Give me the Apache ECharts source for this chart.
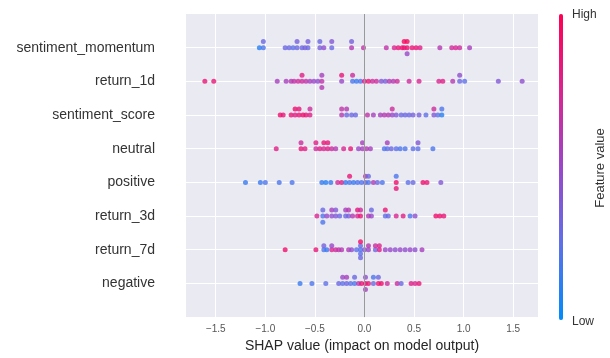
<!DOCTYPE html>
<html>
<head>
<meta charset="utf-8">
<script src="https://cdn.jsdelivr.net/npm/echarts@6/dist/echarts.min.js"></script>
<style>
  html, body { margin: 0; padding: 0; background: #fff; }
  #chart { width: 610px; height: 358px; }
</style>
</head>
<body>
<div id="chart"></div>
<script>
// feature names, top to bottom
const features = ['sentiment_momentum', 'return_1d', 'sentiment_score', 'neutral',
  'positive', 'return_3d', 'return_7d', 'negative']

// [shap value, feature value (0 = low, 1 = high)]
const sentimentMomentum = [
  [-1.06, 0.1], [-1.02, 0.2], [-1.02, 0.3],
  [-0.80, 0.3], [-0.76, 0.3], [-0.72, 0.25], [-0.68, 0.3], [-0.68, 0.35], [-0.63, 0.3],
  [-0.60, 0.35], [-0.57, 0.3], [-0.57, 0.35],
  [-0.45, 0.35], [-0.45, 0.3], [-0.41, 0.45], [-0.33, 0.3], [-0.33, 0.4],
  [-0.13, 0.6], [-0.13, 0.35], [-0.01, 0.65],
  [0.22, 0.65], [0.30, 0.75], [0.34, 0.85], [0.38, 0.9], [0.40, 0.85], [0.40, 0.95],
  [0.43, 0.9], [0.43, 0.95], [0.43, 0.5], [0.48, 0.85], [0.52, 0.85], [0.56, 0.8],
  [0.76, 0.6], [0.88, 0.7], [0.92, 0.75], [0.96, 0.7], [1.06, 0.55]
]
const return1d = [
  [-1.61, 0.85], [-1.52, 0.85], [-0.88, 0.55],
  [-0.79, 0.55], [-0.74, 0.6], [-0.71, 0.65], [-0.67, 0.7], [-0.63, 0.7], [-0.63, 0.8],
  [-0.59, 0.65], [-0.55, 0.55], [-0.51, 0.5], [-0.47, 0.45], [-0.43, 0.65], [-0.43, 0.55], [-0.43, 0.6],
  [-0.23, 0.5], [-0.23, 0.85], [-0.12, 0.2], [-0.12, 0.7],
  [-0.08, 0.15], [-0.04, 0.2], [0.00, 0.8], [0.04, 0.85], [0.08, 0.7], [0.12, 0.7],
  [0.17, 0.4], [0.21, 0.35], [0.25, 0.6], [0.29, 0.6], [0.33, 0.7],
  [0.45, 0.7], [0.55, 0.75], [0.75, 0.75], [0.79, 0.8], [0.89, 0.6],
  [0.96, 0.3], [0.96, 0.45], [1.01, 0.25], [1.35, 0.4], [1.59, 0.45]
]
const sentimentScore = [
  [-0.85, 0.9], [-0.82, 0.85], [-0.74, 0.85], [-0.70, 0.8], [-0.70, 0.9],
  [-0.66, 0.85], [-0.66, 0.85], [-0.62, 0.9], [-0.59, 0.85], [-0.55, 0.8], [-0.55, 0.7],
  [-0.23, 0.6], [-0.23, 0.65], [-0.18, 0.3], [-0.18, 0.6], [-0.13, 0.3], [-0.09, 0.3],
  [0.03, 0.65], [0.09, 0.55], [0.16, 0.55], [0.20, 0.6], [0.24, 0.6], [0.28, 0.5], [0.28, 0.7],
  [0.32, 0.4], [0.37, 0.3], [0.41, 0.3], [0.45, 0.3], [0.49, 0.35], [0.55, 0.35],
  [0.62, 0.25], [0.70, 0.4], [0.70, 0.7], [0.74, 0.25], [0.78, 0.1], [0.78, 0.2]
]
const neutral = [
  [-0.89, 0.8], [-0.64, 0.85], [-0.64, 0.7], [-0.60, 0.8],
  [-0.49, 0.7], [-0.49, 0.8], [-0.45, 0.8], [-0.41, 0.75], [-0.41, 0.85], [-0.37, 0.8], [-0.37, 0.85],
  [-0.33, 0.7], [-0.29, 0.6], [-0.21, 0.75], [-0.14, 0.85],
  [-0.06, 0.5], [-0.02, 0.55], [-0.02, 0.55], [0.02, 0.6], [0.06, 0.55],
  [0.20, 0.2], [0.23, 0.25], [0.23, 0.55], [0.27, 0.3], [0.32, 0.25], [0.36, 0.2], [0.41, 0.2],
  [0.49, 0.25], [0.54, 0.25], [0.54, 0.4], [0.69, 0.2]
]
const positive = [
  [-1.20, 0.15], [-1.05, 0.15], [-1.00, 0.2], [-0.86, 0.2], [-0.73, 0.2],
  [-0.43, 0.15], [-0.39, 0.1], [-0.34, 0.15], [-0.27, 0.7], [-0.23, 0.8], [-0.19, 0.15],
  [-0.15, 0.2], [-0.15, 0.85], [-0.11, 0.15], [-0.07, 0.2], [-0.03, 0.2],
  [0.01, 0.3], [0.01, 0.6], [0.04, 0.2], [0.04, 0.3], [0.09, 0.6], [0.13, 0.3], [0.18, 0.2],
  [0.32, 0.9], [0.32, 0.2], [0.32, 0.85],
  [0.44, 0.25], [0.49, 0.3], [0.59, 0.9], [0.63, 0.85], [0.77, 0.4]
]
const return3d = [
  [-0.48, 0.75], [-0.42, 0.2], [-0.42, 0.3], [-0.42, 0.2],
  [-0.38, 0.5], [-0.33, 0.45], [-0.33, 0.55], [-0.29, 0.4], [-0.29, 0.4], [-0.25, 0.3],
  [-0.19, 0.3], [-0.19, 0.55], [-0.16, 0.35], [-0.16, 0.6], [-0.12, 0.6],
  [-0.07, 0.75], [-0.07, 0.85], [-0.04, 0.85], [-0.04, 0.7],
  [0.04, 0.6], [0.07, 0.5], [0.07, 0.3], [0.21, 0.25], [0.21, 0.85], [0.24, 0.3],
  [0.32, 0.75], [0.39, 0.8], [0.46, 0.2], [0.51, 0.45], [0.72, 0.9], [0.76, 0.9], [0.80, 0.85]
]
const return7d = [
  [-0.80, 0.9], [-0.49, 0.85], [-0.41, 0.2], [-0.41, 0.35], [-0.38, 0.15],
  [-0.33, 0.75], [-0.33, 0.5], [-0.29, 0.7], [-0.26, 0.65], [-0.23, 0.6],
  [-0.16, 0.6], [-0.13, 0.45], [-0.08, 0.25],
  [-0.04, 0.2], [-0.04, 0.3], [-0.04, 0.25], [-0.04, 0.9], [-0.04, 0.3],
  [0.00, 0.4], [0.04, 0.5], [0.04, 0.6], [0.11, 0.3], [0.11, 0.7], [0.15, 0.8], [0.15, 0.75],
  [0.21, 0.5], [0.26, 0.5], [0.31, 0.45], [0.36, 0.5], [0.41, 0.45], [0.46, 0.5], [0.51, 0.45],
  [0.58, 0.55]
]
const negative = [
  [-0.65, 0.15], [-0.53, 0.2], [-0.39, 0.25],
  [-0.26, 0.3], [-0.22, 0.25], [-0.22, 0.5], [-0.18, 0.3], [-0.18, 0.55], [-0.14, 0.25],
  [-0.10, 0.2], [-0.10, 0.3], [-0.06, 0.6], [-0.03, 0.85],
  [0.01, 0.9], [0.01, 0.45], [0.01, 0.55], [0.04, 0.85],
  [0.09, 0.3], [0.09, 0.2], [0.14, 0.85], [0.14, 0.3], [0.17, 0.9], [0.23, 0.7],
  [0.33, 0.7], [0.37, 0.3], [0.47, 0.8], [0.51, 0.75], [0.55, 0.85]
]
const rows = [sentimentMomentum, return1d, sentimentScore, neutral,
  positive, return3d, return7d, negative]

const xTicks = [-1.5, -1.0, -0.5, 0.0, 0.5, 1.0, 1.5]
const yTicks = [0, 1, 2, 3, 4, 5, 6, 7]

// beeswarm offsets the way shap does it: bin x, stack points of a bin up/down
function swarm(points, rowHeight) {
  const xs = points.map(p => p[0])
  const lo = Math.min(...xs)
  const hi = Math.max(...xs)
  const quant = xs.map(x => Math.round(100 * (x - lo) / (hi - lo + 1e-8)))
  const order = xs.map((_, i) => i).sort((a, b) => quant[a] - quant[b] || a - b)
  const ys = new Array(xs.length).fill(0)
  let layer = 0
  let last = -1
  for (const i of order) {
    if (quant[i] !== last) layer = 0
    ys[i] = Math.ceil(layer / 2) * ((layer % 2) * 2 - 1)
    layer++
    last = quant[i]
  }
  const m = Math.max(...ys.map(y => y + 1))
  return ys.map(y => y * 0.9 * (rowHeight / m))
}

const dots = []
rows.forEach((row, r) => {
  const yPos = features.length - 1 - r
  const offs = swarm(row, 0.4)
  row.forEach((p, i) => dots.push([p[0], yPos + offs[i], p[1]]))
})

const chart = echarts.init(document.getElementById('chart'))
chart.setOption({
  animation: false,
  textStyle: { fontFamily: 'Liberation Sans, Arial, sans-serif' },
  grid: {
    left: 186, right: 72, top: 14, bottom: 38,
    show: true, backgroundColor: '#eaeaf2', borderWidth: 0
  },
  xAxis: {
    type: 'value',
    min: -1.8,
    max: 1.75,
    name: 'SHAP value (impact on model output)',
    nameLocation: 'middle',
    nameGap: 21,
    nameTextStyle: { fontSize: 14, color: '#262626' },
    axisLine: { show: false },
    axisTick: { show: false, customValues: xTicks },
    axisLabel: {
      customValues: xTicks,
      fontSize: 10,
      color: '#555',
      margin: 7,
      formatter: v => (v < 0 ? '\u2212' : '') + Math.abs(v).toFixed(1)
    },
    splitLine: { show: true, lineStyle: { color: '#fff', width: 1 } }
  },
  yAxis: {
    type: 'value',
    min: -1,
    max: 8,
    axisLine: { show: false },
    axisTick: { show: false, customValues: yTicks },
    axisLabel: {
      customValues: yTicks,
      fontSize: 14,
      color: '#333',
      margin: 31,
      formatter: v => features[features.length - 1 - Math.round(v)]
    },
    splitLine: { show: true, lineStyle: { color: '#fff', width: 1 } }
  },
  visualMap: {
    type: 'continuous',
    min: 0,
    max: 1,
    dimension: 2,
    seriesIndex: 1,
    calculable: false,
    orient: 'vertical',
    left: 559,
    top: 14,
    padding: 0,
    itemWidth: 4,
    itemHeight: 306,
    text: null,
    showLabel: false,
    inRange: { color: ['#008bfb', '#5f70e8', '#9a47c8', '#da2590', '#ff0052'] }
  },
  graphic: [
    { type: 'text', left: 572, top: 9, style: { text: 'High', fontSize: 12, fill: '#333', fontFamily: 'Liberation Sans' } },
    { type: 'text', left: 572, top: 316, style: { text: 'Low', fontSize: 12, fill: '#333', fontFamily: 'Liberation Sans' } },
    {
      type: 'text', x: 600, y: 168, rotation: Math.PI / 2,
      style: { text: 'Feature value', fontSize: 13, fill: '#333', fontFamily: 'Liberation Sans', align: 'center', verticalAlign: 'middle' }
    }
  ],
  series: [
    {
      type: 'line',
      data: [],
      z: 1,
      markLine: {
        silent: true,
        symbol: 'none',
        label: { show: false },
        lineStyle: { color: '#999', width: 1, type: 'solid' },
        data: [{ xAxis: 0 }]
      }
    },
    {
      type: 'scatter',
      z: 3,
      symbolSize: 5,
      data: dots
    }
  ]
})
</script>
</body>
</html>
